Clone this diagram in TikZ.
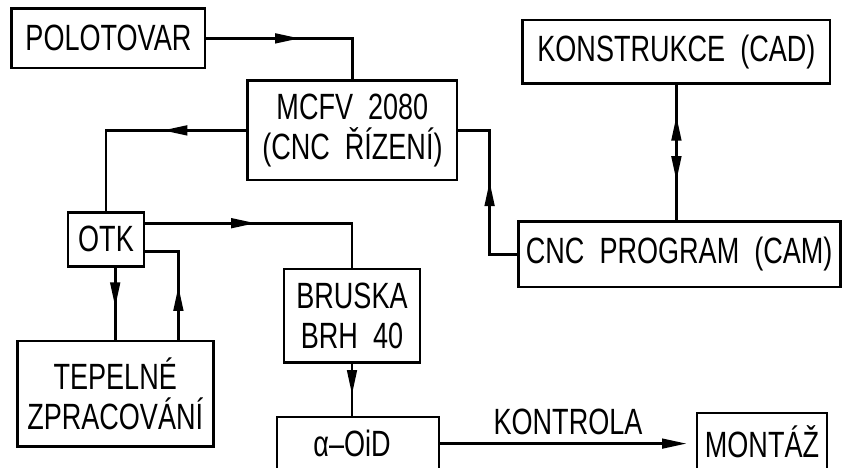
\documentclass[tikz,border=0pt]{standalone}
\usepackage{fontspec}
\setmainfont[FakeStretch=0.74,WordSpace=2]{Liberation Sans}
\usetikzlibrary{arrows.meta,decorations.markings}

\begin{document}
\begin{tikzpicture}[line width=2pt,>={Triangle[length=0.62cm,width=0.24cm]},
  every node/.style={font=\fontsize{26}{28.5}\selectfont},
  box/.style={draw,align=center,inner sep=0pt},
  flow/.style={postaction={decorate,decoration={markings,
    mark=at position #1 with {\arrow{>}}}}},
  revflow/.style={postaction={decorate,decoration={markings,
    mark=at position #1 with {\arrowreversed{>}}}}}]
  \useasboundingbox (0,0) rectangle (21.05,-11.7);
  % boxes
  \node[box,minimum width=4.83cm,minimum height=1.48cm] (polotovar) at (2.71,-0.96) {POLOTOVAR};
  \node[box,minimum width=5.23cm,minimum height=2.48cm] (mcfv) at (8.81,-3.26) {MCFV 2080\\(CNC ŘÍZENÍ)};
  \node[box,minimum width=7.68cm,minimum height=1.58cm] (konstrukce) at (16.91,-1.29) {KONSTRUKCE (CAD)};
  \node[box,minimum width=8.05cm,minimum height=1.63cm] (cnc) at (16.98,-6.36) {CNC PROGRAM (CAM)};
  \node[box,minimum width=1.9cm,minimum height=1.35cm] (otk) at (2.65,-5.98) {OTK};
  \node[box,minimum width=4.9cm,minimum height=2.63cm] (tepelne) at (2.88,-9.84) {TEPELNÉ\\ZPRACOVÁNÍ};
  \node[box,minimum width=3.4cm,minimum height=2.33cm] (bruska) at (8.8,-7.89) {BRUSKA\\BRH 40};
  \node[box,minimum width=4.05cm,minimum height=1.33cm] (aoid) at (8.95,-11.09) {\hspace*{-0.3cm}α–OiD};
  \node[box,minimum width=3.25cm,minimum height=1.43cm] (montaz) at (19.05,-11.04) {MONTÁŽ};
  % connectors
  \draw[flow=0.5] (polotovar) -| (mcfv);
  \draw[flow=0.38] (mcfv) -| (otk);
  \draw[flow=0.55] (cnc.west) -- ++(-0.68,0) |- (mcfv);
  \draw[flow=0.71,revflow=0.23] (konstrukce) -- (konstrukce |- cnc.north);
  \draw[flow=0.44] ([yshift=0.4cm]otk.east) -| (bruska);
  \draw[flow=0.44] ([xshift=1.58cm]tepelne.north) |- ([yshift=-0.3cm]otk.east);
  \draw[flow=0.55] (tepelne.north |- otk.south) -- (tepelne.north);
  \draw[flow=0.6] (bruska) -- (bruska |- aoid.north);
  \draw[->,shorten >=0.22cm] (aoid) -- (aoid -| montaz.west)
    node[midway,yshift=0.55cm] {KONTROLA};
\end{tikzpicture}
\end{document}
